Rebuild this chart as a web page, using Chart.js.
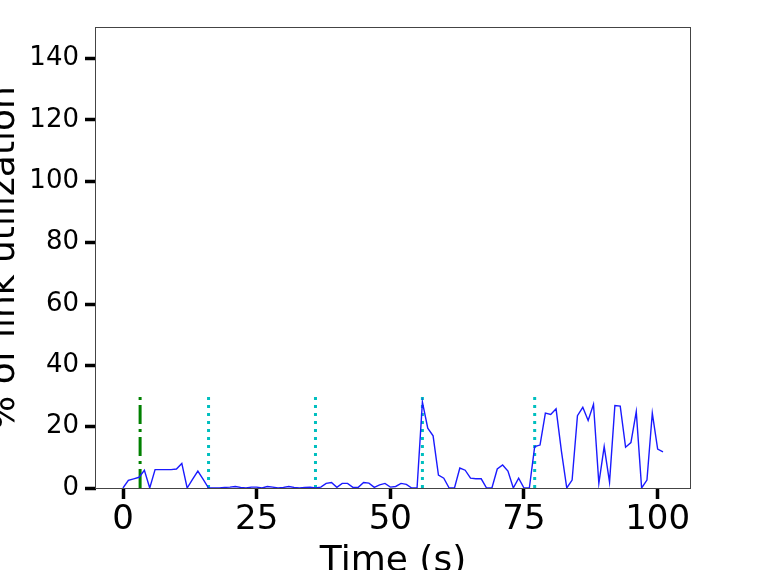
<!DOCTYPE html>
<html>
<head>
<meta charset="utf-8">
<script src="https://cdn.jsdelivr.net/npm/chart.js@4.4.1/dist/chart.umd.min.js"></script>
<style>
  body { margin: 0; background: #fff; }
</style>
</head>
<body>
<canvas id="utilChart" width="762" height="570"></canvas>
<script>
// values
const times = [0, 1, 2, 3, 4, 5, 6, 7, 8, 9, 10, 11, 12, 13, 14, 15, 16, 17, 18, 19,
  20, 21, 22, 23, 24, 25, 26, 27, 28, 29, 30, 31, 32, 33, 34, 35, 36, 37, 38, 39,
  40, 41, 42, 43, 44, 45, 46, 47, 48, 49, 50, 51, 52, 53, 54, 55, 56, 57, 58, 59,
  60, 61, 62, 63, 64, 65, 66, 67, 68, 69, 70, 71, 72, 73, 74, 75, 76, 77, 78, 79,
  80, 81, 82, 83, 84, 85, 86, 87, 88, 89, 90, 91, 92, 93, 94, 95, 96, 97, 98, 99,
  100, 101];
const utilization = [0, 2.5, 3, 3.5, 5.8, 0, 6, 6, 6, 6, 6.2, 8, 0, 2.8, 5.5, 2.8, 0, 0, 0, 0.2,
  0.3, 0.5, 0.2, 0, 0.3, 0.3, 0, 0.5, 0.3, 0, 0.2, 0.5, 0.2, 0, 0.2, 0.3, 0, 0.3, 1.5, 1.8,
  0.2, 1.5, 1.5, 0.2, 0.2, 1.8, 1.6, 0.2, 1, 1.5, 0.3, 0.5, 1.5, 1.2, 0, 0, 28, 19.5, 17, 4.2,
  3.2, 0, 0, 6.5, 5.8, 3.2, 3, 3, 0, 0, 6.2, 7.5, 5.5, 0, 3.2, 0, 0, 13.5, 14, 24.4,
  24, 25.8, 12, 0, 2.6, 23.6, 26.3, 22, 27.3, 1.5, 13.5, 1.9, 26.9, 26.7, 13.3, 14.8, 24.9, 0, 2.6, 24.4,
  12.7, 11.8];
const startTime = 3.2;
const eventTimes = [16, 36, 56, 77];
const markerTop = 30;
const xTicks = [0, 25, 50, 75, 100];
const yTicks = [0, 20, 40, 60, 80, 100, 120, 140];

const FONT = '"DejaVu Sans", sans-serif';

const datasets = [{
    data: times.map((t, i) => ({ x: t, y: utilization[i] })),
    borderColor: '#1a1aff',
    borderWidth: 1.4,
    pointRadius: 0,
    showLine: true
}, {
    data: [{ x: startTime, y: 0 }, { x: startTime, y: markerTop }],
    borderColor: '#008000',
    borderWidth: 3,
    borderDash: [19, 5, 3, 5],
    pointRadius: 0,
    showLine: true
}];
eventTimes.forEach(t => {
    datasets.push({
        data: [{ x: t, y: 0 }, { x: t, y: markerTop }],
        borderColor: '#00bfbf',
        borderWidth: 3,
        borderDash: [3, 5],
        pointRadius: 0,
        showLine: true
    });
});

// frame + axis titles, placed like the original figure
const framePlugin = {
    id: 'frame',
    afterDatasetsDraw(chart) {
        const { ctx, chartArea: a } = chart;
        ctx.save();
        ctx.strokeStyle = '#444';
        ctx.lineWidth = 1;
        ctx.strokeRect(a.left - 0.5, a.top - 0.5, a.right - a.left + 1, a.bottom - a.top + 1);
        ctx.fillStyle = '#000';
        ctx.font = '36px ' + FONT;
        ctx.textAlign = 'center';
        ctx.textBaseline = 'alphabetic';
        ctx.fillText('Time (s)', (a.left + a.right) / 2, 571);
        ctx.translate(14, (a.top + a.bottom) / 2);
        ctx.rotate(-Math.PI / 2);
        ctx.fillText('% of link utilization', 0, 0);
        ctx.restore();
    }
};

new Chart(document.getElementById('utilChart'), {
    type: 'scatter',
    data: { datasets: datasets },
    options: {
        responsive: false,
        animation: false,
        layout: { padding: { left: 0, right: 72, top: 28, bottom: 0 } },
        plugins: { legend: { display: false }, tooltip: { enabled: false } },
        scales: {
            x: {
                type: 'linear',
                min: -5.05,
                max: 106.05,
                afterBuildTicks: s => { s.ticks = xTicks.map(v => ({ value: v })); },
                afterFit: s => { s.height = 82; },
                grid: { drawOnChartArea: false, tickLength: 11, tickWidth: 3.5, tickColor: '#000' },
                border: { display: false },
                ticks: { color: '#000', padding: 1, font: { family: FONT, size: 34 } }
            },
            y: {
                min: 0,
                max: 150,
                afterBuildTicks: s => { s.ticks = yTicks.map(v => ({ value: v })); },
                afterFit: s => { s.width = 96; },
                grid: { drawOnChartArea: false, tickLength: 11, tickWidth: 3.5, tickColor: '#000' },
                border: { display: false },
                ticks: { color: '#000', padding: 6, font: { family: FONT, size: 26 } }
            }
        }
    },
    plugins: [framePlugin]
});
</script>
</body>
</html>
